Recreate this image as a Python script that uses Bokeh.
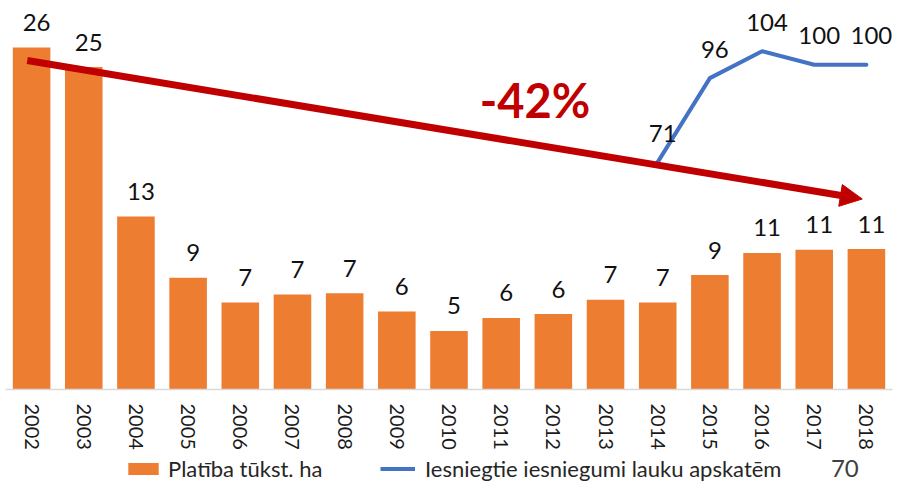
from bokeh.plotting import figure
from bokeh.layouts import column
from bokeh.models import (Range1d, ColumnDataSource, LabelSet, Label, Arrow, NormalHead,
                          Legend, LegendItem, FixedTicker)
from bokeh.core.properties import value
from bokeh.embed import file_html
from bokeh.resources import INLINE

# ---- data ----
years = ["2002", "2003", "2004", "2005", "2006", "2007", "2008", "2009", "2010",
         "2011", "2012", "2013", "2014", "2015", "2016", "2017", "2018"]
area = [26.3, 24.8, 13.3, 8.6, 6.7, 7.3, 7.4, 6.0, 4.5, 5.5, 5.8, 6.9, 6.7, 8.8, 10.5, 10.75, 10.8]
area_labels = ["26", "25", "13", "9", "7", "7", "7", "6", "5", "6", "6", "7", "7", "9", "11", "11", "11"]
app_years = ["2014", "2015", "2016", "2017", "2018"]
applications = [71, 96, 104, 100, 100]
app_labels = ["71", "96", "104", "100", "100"]
change_text = "-42%"
page_number = "70"
series_names = ["Platība tūkst. ha", "Iesniegtie iesniegumi lauku apskatēm"]

FONT = "Lato"
ORANGE = "#ED7D31"
BLUE = "#4472C4"
RED = "#C00000"
NAN = float("nan")

idx = list(range(len(years)))
src_bar = ColumnDataSource(dict(x=idx, top=area, label=area_labels))
src_line = ColumnDataSource(dict(x=[years.index(y) for y in app_years], y=applications, label=app_labels))

# ---- main chart ----
p = figure(width=893, height=453, x_range=Range1d(-0.5, 16.5), y_range=Range1d(0, 29.92),
           output_backend="svg", toolbar_location=None, y_axis_location=None,
           min_border_left=5, min_border_right=1, min_border_top=0, min_border_bottom=64,
           outline_line_color=None, background_fill_color="white", border_fill_color="white")
p.extra_y_ranges = {"y2": Range1d(3.36, 119.1)}
p.grid.grid_line_color = None

p.vbar(x="x", top="top", width=0.72, source=src_bar, fill_color=ORANGE, line_color=None)
p.line(x="x", y="y", source=src_line, y_range_name="y2", line_color=BLUE,
       line_width=4, line_join="round", line_cap="round")

ax = p.xaxis[0]
ax.ticker = FixedTicker(ticks=idx)
ax.major_label_overrides = {i: y for i, y in zip(idx, years)}
ax.major_label_orientation = "vertical"
ax.major_label_standoff = 14
ax.major_label_text_font = FONT
ax.major_label_text_font_size = "20px"
ax.major_label_text_color = "#1a1a1a"
ax.axis_line_color = "#D9D9D9"
ax.axis_line_width = 1.5
ax.major_tick_line_color = None
ax.minor_tick_line_color = None
ax.major_tick_out = 0
ax.major_tick_in = 0

p.add_layout(LabelSet(x="x", y="top", text="label", source=src_bar, x_offset=5, y_offset=25,
                      text_align="center", text_baseline="middle", text_font=value(FONT),
                      text_font_size=value("24px"), text_color="#111111"))
p.add_layout(LabelSet(x="x", y="y", text="label", source=src_line, y_range_name="y2",
                      x_offset=5, y_offset=29, text_align="center", text_baseline="middle",
                      text_font=value(FONT), text_font_size=value("24px"), text_color="#111111"))

p.add_layout(Arrow(end=NormalHead(size=22, fill_color=RED, line_color=RED, line_width=1),
                   x_start=-0.083, y_start=25.3, x_end=15.92, y_end=14.65,
                   line_color=RED, line_width=7))
p.add_layout(Label(x=9.65, y=22.27, text=change_text, text_font=FONT, text_font_style="bold",
                   text_font_size="47px", text_color=RED, text_align="center",
                   text_baseline="middle"))

# ---- footer with legend and page number ----
f = figure(width=893, height=30, x_range=Range1d(0, 893), y_range=Range1d(0, 30),
           output_backend="svg", toolbar_location=None, x_axis_location=None, y_axis_location=None,
           min_border=0, outline_line_color=None, background_fill_color="white",
           border_fill_color="white")
f.grid.grid_line_color = None
# legend proxies (not drawn in the plot area: NaN data)
proxy_bar = f.vbar(x=[NAN], top=[NAN], width=1, fill_color=ORANGE, line_color=None)
proxy_line = f.line(x=[NAN, NAN], y=[NAN, NAN], line_color=BLUE, line_width=4)

common = dict(orientation="horizontal", glyph_height=15, label_height=20, padding=0, margin=0,
              spacing=0, border_line_color=None, background_fill_alpha=0, label_text_font=FONT,
              label_text_font_size="22px", label_text_color="#262626")
f.add_layout(Legend(items=[LegendItem(label=series_names[0], renderers=[proxy_bar])],
                    location=(119, 1), glyph_width=38, label_standoff=6, **common))
f.add_layout(Legend(items=[LegendItem(label=series_names[1], renderers=[proxy_line])],
                    location=(375, 1), glyph_width=35, label_standoff=10, **common))
f.add_layout(Label(x=845, y=15, text=page_number, text_align="center", text_baseline="middle",
                   text_font=FONT, text_font_size="24px", text_color="#404040"))

layout = column(p, f, spacing=0)
open("out.html", "w").write(file_html(layout, INLINE))
